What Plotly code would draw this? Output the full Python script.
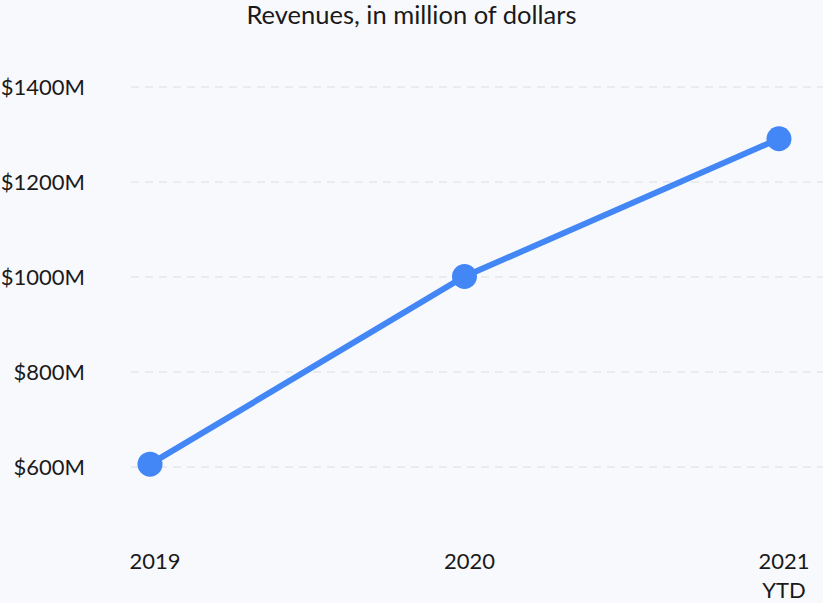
import plotly.graph_objects as go

categories = ["2019", "2020", "2021<br>YTD"]
revenues = [606, 1001, 1291]
y_ticks = [600, 800, 1000, 1200, 1400]
y_tick_labels = ["$600M", "$800M", "$1000M", "$1200M", "$1400M"]

FONT = "Lato"
BLUE = "#4287f5"
BG = "#f8f9fd"

fig = go.Figure()
fig.add_trace(go.Scatter(
    x=categories,
    y=revenues,
    mode="lines+markers",
    line=dict(color=BLUE, width=6),
    marker=dict(color=BLUE, size=25),
    hoverinfo="skip",
    showlegend=False,
))

fig.update_layout(
    width=823,
    height=603,
    paper_bgcolor=BG,
    plot_bgcolor=BG,
    font=dict(family=FONT, size=22, color="#1a1a1a"),
    margin=dict(l=131, r=0, t=49, b=92),
    title=dict(
        text="Revenues, in million of dollars",
        x=0.5, xanchor="center",
        y=1 - 15 / 603, yanchor="middle", yref="container",
        font=dict(family=FONT, size=25.5, color="#1a1a1a"),
    ),
    xaxis=dict(
        type="category",
        range=[-0.0604, 2.14],
        showgrid=False,
        zeroline=False,
        showline=False,
        ticks="",
        ticklabelstandoff=41,
        ticklabelshift=5,
    ),
    yaxis=dict(
        range=[520, 1480],
        tickvals=y_ticks,
        ticktext=y_tick_labels,
        showgrid=True,
        gridcolor="#eaebef",
        gridwidth=2,
        griddash="8px,6px",
        zeroline=False,
        showline=False,
        ticks="",
        ticklabelstandoff=45,
    ),
)

fig.write_html(
    "out.html",
    config={"displayModeBar": False},
    post_script="document.body.style.margin='0';document.body.style.background='%s';" % BG,
)
